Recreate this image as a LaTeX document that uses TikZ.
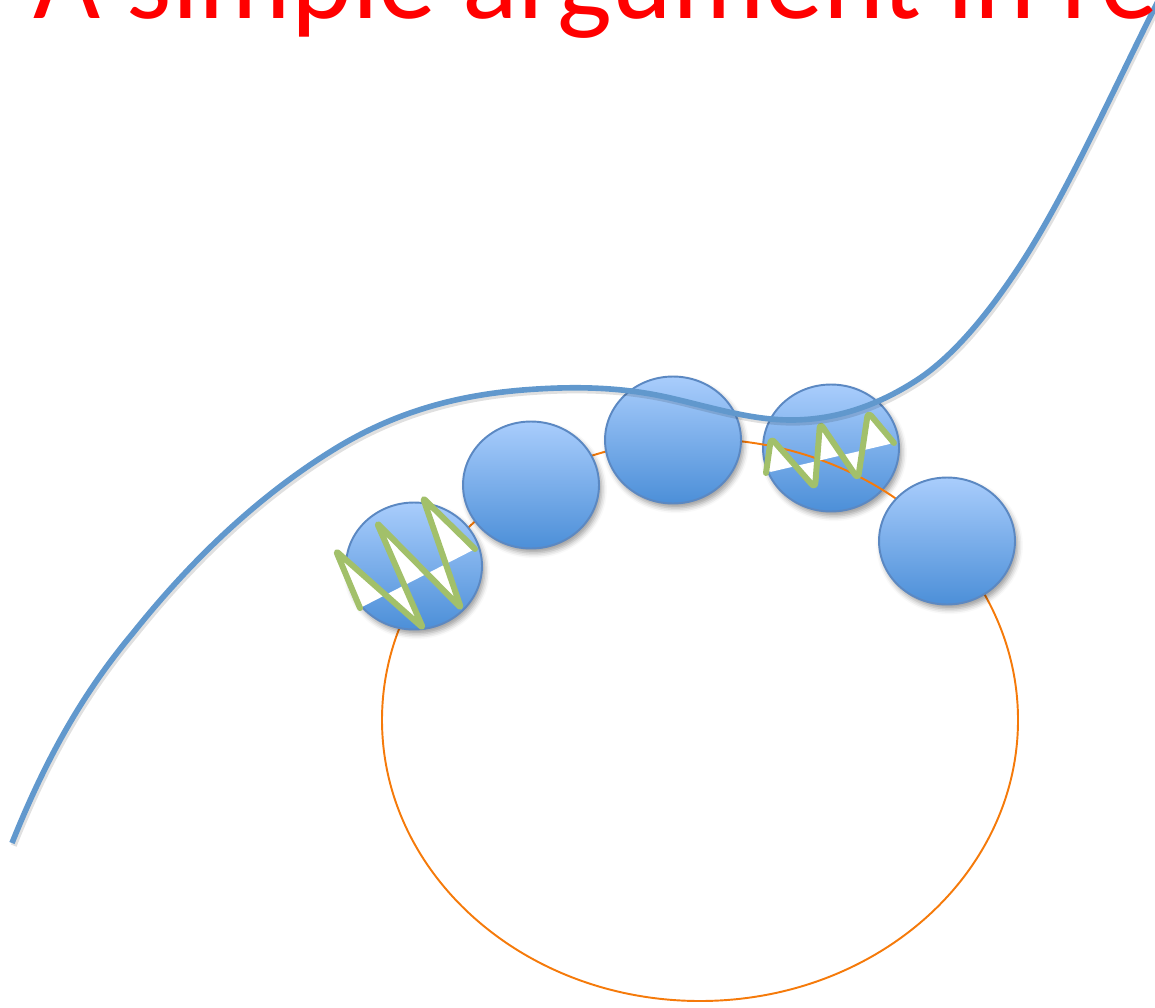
\documentclass[tikz,border=0pt]{standalone}
\usepackage{fontspec}
\setmainfont{Carlito}
\usepackage{xcolor}
\usetikzlibrary{shapes.geometric, shadows.blur}

\definecolor{beadtop}{HTML}{A9CDFC}
\definecolor{beadbot}{HTML}{4C8FD8}
\definecolor{beadrim}{HTML}{5B88C2}
\definecolor{pathblue}{HTML}{6198CD}
\definecolor{ringorange}{HTML}{F57A0A}
\definecolor{wavegreen}{HTML}{A2C06A}

\begin{document}
\begin{tikzpicture}[x=0.02cm, y=-0.02cm,
    bead/.style={ellipse, draw=beadrim, line width=1.1pt,
                 top color=beadtop, bottom color=beadbot,
                 minimum width=2.72cm, minimum height=2.54cm, inner sep=0pt,
                 blur shadow={shadow xshift=1.5pt, shadow yshift=-2.5pt,
                              shadow blur radius=3pt, shadow opacity=40}},
    ring/.style={draw=ringorange, line width=1.1pt},
    wave/.style={draw=wavegreen, line width=3.4pt, line join=round, line cap=round},
    band/.style={fill=white},
    track/.style={draw=pathblue, line width=3.2pt,
                  preaction={draw=black, opacity=.12, line width=3.4pt,
                             transform canvas={xshift=1pt, yshift=-1.5pt}}},
    heading/.style={text=red, font=\fontsize{66}{70}\selectfont, inner sep=0pt}
]
\useasboundingbox (0,0) rectangle (1155,1007);
\clip (0,0) rectangle (1155,1007);

% bead under the ring
\node (b4) [bead] at (831,448) {};
\draw [ring] (700,720) ellipse [x radius=318, y radius=281];
\node (b1) [bead] at (414,566) {};
\node (b2) [bead] at (531,485) {};
\node (b3) [bead] at (673,440) {};
\node (b5) [bead] at (947,541) {};

% waves on the beads
\fill [band] (360,608) -- (336,551) -- (423,628) -- (377,523)
             -- (461,608) -- (423,498) -- (475,549) -- cycle;
\draw [wave, rounded corners=1.5pt] (360,608) -- (336,551) -- (423,628)
             -- (377,523) -- (461,608) -- (423,498) -- (475,549);
\fill [band, rounded corners=3pt] (766,473) -- (771,438) -- (815,488)
             -- (820,423) -- (858,479) -- (868,412) -- (894,443) -- cycle;
\draw [wave, rounded corners=3pt] (766,473) -- (771,438) -- (815,488)
             -- (820,423) -- (858,479) -- (868,412) -- (894,443);

\draw [track] (12,843) .. controls (52.3,742.2) and (92.7,681.4) .. (133,633)
              .. controls (199.7,549.7) and (266.3,491.3) .. (333,450)
              .. controls (396.3,410.7) and (459.7,395.1) .. (523,390)
              .. controls (570.7,386.2) and (618.3,386.5) .. (666,397)
              .. controls (707.7,406.2) and (749.3,420) .. (791,420)
              .. controls (833,420) and (875,407.3) .. (917,380)
              .. controls (950.3,358.3) and (983.7,320) .. (1017,270)
              .. controls (1063,201) and (1109,99) .. (1155,7) -- (1160,-3);

\node (title) [heading, anchor=base west] at (33,19) {A simple argument in re};
\end{tikzpicture}
\end{document}
